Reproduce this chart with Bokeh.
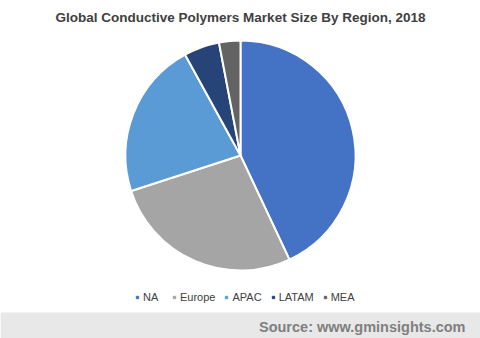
import math
from bokeh.plotting import figure
from bokeh.models import Range1d, Legend, LegendItem, ColumnDataSource
from bokeh.core.properties import value
from bokeh.embed import file_html
from bokeh.resources import INLINE

regions = ["NA", "Europe", "APAC", "LATAM", "MEA"]
shares = [43.0, 27.0, 22.0, 5.0, 3.0]
colors = ["#4472C4", "#A5A5A5", "#5B9BD5", "#264478", "#636363"]
title = "Global Conductive Polymers Market Size By Region, 2018"
source_text = "Source: www.gminsights.com"

W, H = 480, 338
p = figure(width=W, height=H, output_backend="svg", toolbar_location=None,
           x_range=Range1d(0, W), y_range=Range1d(0, H), min_border=0)
p.axis.visible = False
p.grid.visible = False
p.outline_line_color = None
p.background_fill_color = "white"
p.border_fill_color = "white"

total = sum(shares)
starts, ends = [], []
acc = 0.0
for s in shares:
    starts.append(math.pi / 2 - 2 * math.pi * acc / total)
    acc += s
    ends.append(math.pi / 2 - 2 * math.pi * acc / total)

src = ColumnDataSource(dict(region=regions, share=shares, color=colors,
                            start=starts, end=ends))
p.wedge(x=240, y=H - 155, radius=115, start_angle="start", end_angle="end",
        direction="clock", fill_color="color", line_color="white", line_width=2,
        source=src)

items = []
for r, c in zip(regions, colors):
    rr = p.scatter(x=[-100], y=[-100], marker="square", size=5,
                   fill_color=c, line_color=c)
    items.append(LegendItem(label=r, renderers=[rr]))
leg = Legend(items=items, orientation="horizontal", location=(134, 35),
             label_text_font="Liberation Sans", label_text_font_size="11px",
             label_text_color="#404040", glyph_width=6, glyph_height=6,
             label_standoff=3, spacing=8, padding=0, margin=0,
             background_fill_alpha=0, border_line_color=None,
             label_height=12)
p.add_layout(leg, "center")

p.text(x=[240], y=[H - 17], text=[title], text_align="center", text_baseline="middle",
       text_font=value("Liberation Sans"), text_font_size="13.5px",
       text_font_style="bold", text_color="#404040")

p.quad(left=[0], right=[W], bottom=[0], top=[26], fill_color="#E8E8E8", line_color=None)
p.text(x=[465], y=[12], text=[source_text], text_align="right", text_baseline="middle",
       text_font=value("Liberation Sans"), text_font_size="14.5px",
       text_font_style="bold", text_color="#7F7F7F")

open("out.html", "w").write(file_html(p, INLINE))
